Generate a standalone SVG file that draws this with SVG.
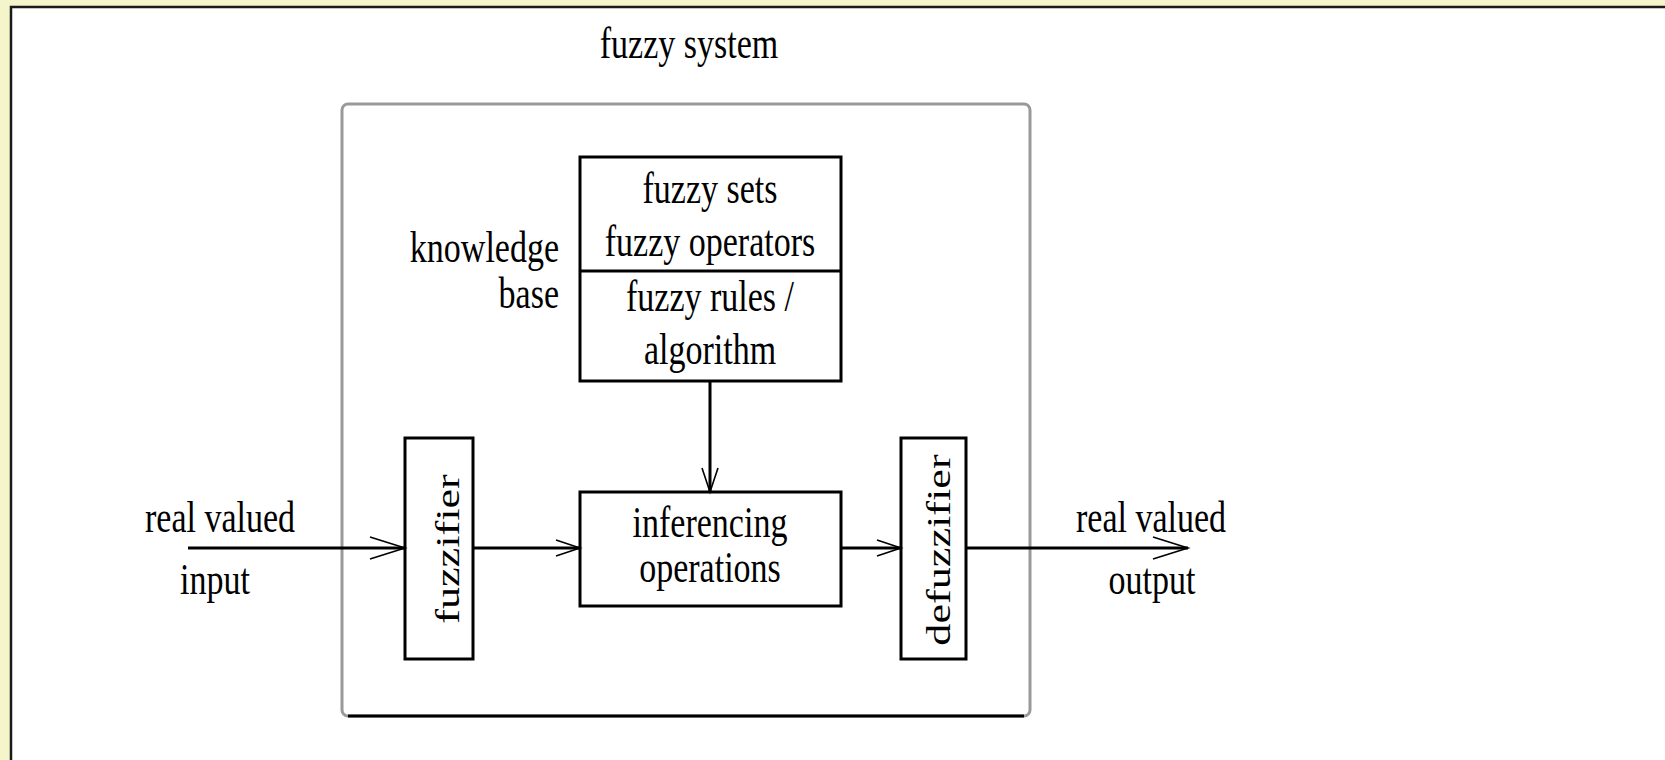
<svg xmlns="http://www.w3.org/2000/svg" width="1665" height="760" viewBox="0 0 1665 760">
<style>
.t{font-family:"Liberation Serif","Times New Roman",serif;font-size:34px;fill:#000}
.m{text-anchor:middle}
.e{text-anchor:end}
.box{fill:#fff;stroke:#000;stroke-width:3}
.con{fill:none;stroke:#000;stroke-width:3}
</style>
<defs>
<marker id="arrL" markerUnits="userSpaceOnUse" markerWidth="42" markerHeight="30" viewBox="-2 -15 42 30" refX="35" refY="0" orient="auto">
<path d="M0,-11 L35,0 L0,11" fill="none" stroke="#000" stroke-width="1.6"/>
</marker>
<marker id="arrS" markerUnits="userSpaceOnUse" markerWidth="30" markerHeight="22" viewBox="-2 -11 30 22" refX="24" refY="0" orient="auto">
<path d="M0,-8 L24,0 L0,8" fill="none" stroke="#000" stroke-width="1.6"/>
</marker>
</defs>
<rect x="0" y="0" width="1665" height="760" fill="#f5f5cb"/>
<rect x="11" y="7" width="1670" height="770" fill="#fff" stroke="#1a1a1a" stroke-width="2.5"/>

<g id="fuzzy-system">
<rect x="342" y="104" width="688" height="612" rx="6" fill="none" stroke="#999" stroke-width="3"/>
<path d="M348,716 H1024" stroke="#000" stroke-width="3" fill="none"/>
<text class="t m" transform="translate(689,58) scale(1,1.3)">fuzzy system</text>
</g>

<g id="knowledge-base">
<rect class="box" x="580" y="157" width="261" height="224"/>
<line x1="580" y1="271" x2="841" y2="271" stroke="#000" stroke-width="3"/>
<text class="t m" transform="translate(710,203) scale(1,1.3)">fuzzy sets</text>
<text class="t m" transform="translate(710,256) scale(1,1.3)">fuzzy operators</text>
<text class="t m" transform="translate(710,311) scale(1,1.3)">fuzzy rules /</text>
<text class="t m" transform="translate(710,364) scale(1,1.3)">algorithm</text>
<text class="t e" transform="translate(559,262) scale(1,1.3)">knowledge</text>
<text class="t e" transform="translate(559,308) scale(1,1.3)">base</text>
</g>

<g id="fuzzifier">
<rect class="box" x="405" y="438" width="68" height="221"/>
<text class="t m" transform="translate(459,549) rotate(-90) scale(1.3,1)">fuzzifier</text>
</g>

<g id="inferencing">
<rect class="box" x="580" y="492" width="261" height="114"/>
<text class="t m" transform="translate(710,537) scale(1,1.3)">inferencing</text>
<text class="t m" transform="translate(710,582) scale(1,1.3)">operations</text>
</g>

<g id="defuzzifier">
<rect class="box" x="901" y="438" width="65" height="221"/>
<text class="t m" transform="translate(950,550) rotate(-90) scale(1.3,1)">defuzzifier</text>
</g>

<g id="input">
<text class="t m" transform="translate(220,532) scale(1,1.3)">real valued</text>
<text class="t m" transform="translate(215,594) scale(1,1.3)">input</text>
</g>

<g id="output">
<text class="t m" transform="translate(1151,532) scale(1,1.3)">real valued</text>
<text class="t m" transform="translate(1152,594) scale(1,1.3)">output</text>
</g>

<g id="connectors">
<path class="con" d="M188,548 H405" marker-end="url(#arrL)"/>
<path class="con" d="M473,548 H580" marker-end="url(#arrS)"/>
<path class="con" d="M841,548 H901" marker-end="url(#arrS)"/>
<path class="con" d="M966,548 H1188" marker-end="url(#arrL)"/>
<path class="con" d="M710,381 V492" marker-end="url(#arrS)"/>
</g>
</svg>
